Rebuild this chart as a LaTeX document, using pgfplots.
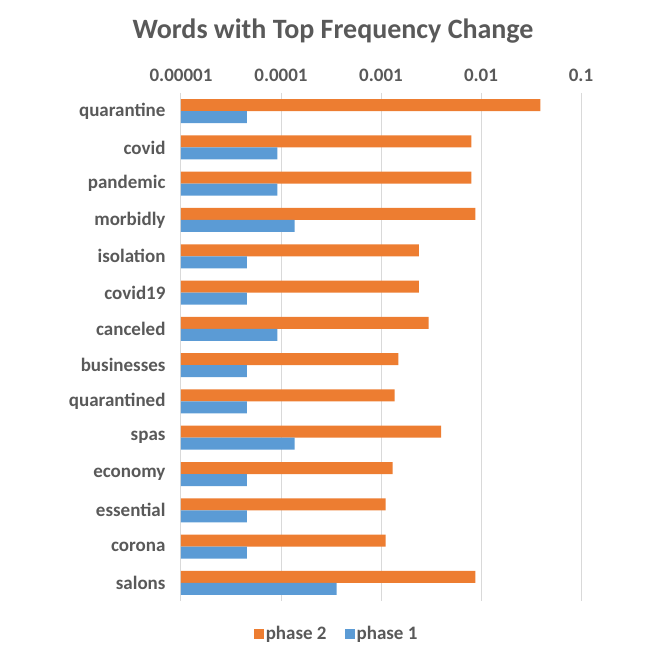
\documentclass[border=0pt]{standalone}
\usepackage{pgfplots}
\pgfplotsset{compat=1.18}
\usepackage{fontspec}
\setmainfont{Carlito}
\definecolor{orng}{HTML}{ED7D31}
\definecolor{blu}{HTML}{5B9BD5}
\definecolor{txt}{HTML}{595959}
\definecolor{grd}{HTML}{D9D9D9}
\begin{document}
\begin{tikzpicture}[x=1bp,y=1bp]
\useasboundingbox (0,0) rectangle (666,661);
\node[font=\fontsize{28bp}{32bp}\selectfont\bfseries, text=txt] at (333,630) {Words with Top Frequency Change};
\begin{axis}[
  at={(181bp,60bp)}, anchor=south west,
  width=400bp, height=508bp, scale only axis,
  xmode=log, xmin=1e-5, xmax=1e-1, log origin x=infty,
  xtick={1e-5,1e-4,1e-3,1e-2,1e-1},
  xticklabels={0.00001,0.0001,0.001,0.01,0.1},
  xticklabel pos=upper,
  xminorticks=false,
  xmajorgrids, major x grid style={grd, line width=1pt},
  ymin=-0.5, ymax=13.5, y dir=reverse,
  ytick={0,...,13},
  yticklabels={quarantine,covid,pandemic,morbidly,isolation,covid19,canceled,businesses,quarantined,spas,economy,essential,corona,salons},
  axis line style={draw=none},
  major tick length=0pt, minor tick length=0pt,
  tick label style={font=\fontsize{19bp}{22bp}\selectfont\bfseries, text=txt},
  xticklabel style={yshift=8bp},
  yticklabel style={xshift=-12bp},
  xbar, bar width=12bp,
  legend style={draw=none, legend columns=-1, at={(0.389,-0.065)}, anchor=center,
    font=\fontsize{19bp}{22bp}\selectfont\bfseries, text=txt,
    /tikz/every even column/.append style={column sep=16bp}},
  legend image code/.code={\fill[#1] (0bp,-5bp) rectangle (10bp,5bp);},
]
\addplot[fill=orng, draw=none, bar shift=6bp] coordinates {
(0.0392,0) (0.0080,1) (0.0080,2) (0.0088,3) (0.00239,4) (0.00239,5) (0.00299,6)
(0.00149,7) (0.00137,8) (0.00399,9) (0.00131,10) (0.00111,11) (0.00111,12) (0.0088,13)};
\addlegendentry{phase 2}
\addplot[fill=blu, draw=none, bar shift=-6bp] coordinates {
(4.56e-5,0) (9.2e-5,1) (9.2e-5,2) (1.37e-4,3) (4.56e-5,4) (4.56e-5,5) (9.2e-5,6)
(4.56e-5,7) (4.56e-5,8) (1.37e-4,9) (4.56e-5,10) (4.56e-5,11) (4.56e-5,12) (3.6e-4,13)};
\addlegendentry{phase 1}
\end{axis}
\end{tikzpicture}
\end{document}
